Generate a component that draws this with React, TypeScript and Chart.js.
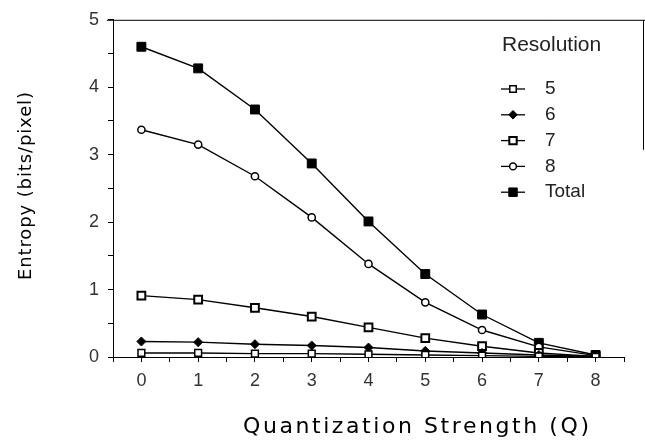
import React, { useEffect, useRef } from 'react';
import { Chart, registerables } from 'chart.js';
import { drawPoint } from 'chart.js/helpers';

Chart.register(...registerables);

// ---- data ----
const qValues = [0, 1, 2, 3, 4, 5, 6, 7, 8];
const seriesLabels = ['5', '6', '7', '8', 'Total'];
const res5 = [0.06, 0.06, 0.05, 0.05, 0.04, 0.03, 0.02, 0.01, 0.0];
const res6 = [0.23, 0.22, 0.19, 0.17, 0.14, 0.09, 0.06, 0.03, 0.01];
const res7 = [0.91, 0.85, 0.73, 0.6, 0.44, 0.28, 0.16, 0.06, 0.01];
const res8 = [3.37, 3.15, 2.68, 2.07, 1.38, 0.81, 0.4, 0.15, 0.02];
const total = [4.6, 4.28, 3.67, 2.87, 2.01, 1.23, 0.63, 0.21, 0.03];
const legendTitle = 'Resolution';
const xTitle = 'Quantization Strength (Q)';
const yTitle = 'Entropy (bits/pixel)';

const seriesValues = [res5, res6, res7, res8, total];

// ---- styles ----
const markerStyles = [
  { pointStyle: 'rect', radius: 4.8, bg: '#ffffff', bw: 1.5 },
  { pointStyle: 'rectRot', radius: 4.5, bg: '#000000', bw: 1 },
  { pointStyle: 'rect', radius: 5.5, bg: '#ffffff', bw: 2 },
  { pointStyle: 'circle', radius: 3.6, bg: '#ffffff', bw: 1.5 },
  { pointStyle: 'rect', radius: 6.3, bg: '#000000', bw: 1 },
];

const FONT = '"Liberation Sans", Arial, Helvetica, sans-serif';
const TITLE_FONT = '"DejaVu Sans", "Liberation Sans", sans-serif';

function drawSpacedText(ctx: CanvasRenderingContext2D, text: string, target: number) {
  (ctx as any).letterSpacing = '0px';
  const w = ctx.measureText(text).width;
  const sp = Math.max(0, (target - w) / Math.max(1, text.length - 1));
  (ctx as any).letterSpacing = sp + 'px';
  ctx.fillText(text, sp / 2, 0);
  (ctx as any).letterSpacing = '0px';
}

const decorPlugin = {
  id: 'decor',
  afterDraw(chart: any) {
    const ctx: CanvasRenderingContext2D = chart.ctx;
    const ca = chart.chartArea;
    ctx.save();
    // frame remnants
    ctx.strokeStyle = '#000';
    ctx.lineWidth = 1;
    ctx.beginPath();
    ctx.moveTo(ca.left - 6, ca.top + 0.5);
    ctx.lineTo(chart.width, ca.top + 0.5);
    ctx.moveTo(chart.width - 1.5, ca.top);
    ctx.lineTo(chart.width - 1.5, ca.top + 130);
    ctx.stroke();

    // axis titles
    ctx.fillStyle = '#000';
    ctx.textAlign = 'center';
    ctx.textBaseline = 'middle';
    ctx.font = `22px ${TITLE_FONT}`;
    ctx.save();
    ctx.translate(416, 427);
    drawSpacedText(ctx, xTitle, 346);
    ctx.restore();

    ctx.font = `18px ${TITLE_FONT}`;
    ctx.save();
    ctx.translate(26, 186);
    ctx.rotate(-Math.PI / 2);
    drawSpacedText(ctx, yTitle, 188);
    ctx.restore();

    // legend
    ctx.fillStyle = '#222';
    ctx.textAlign = 'left';
    ctx.font = `21px ${FONT}`;
    ctx.fillText(legendTitle, 502, 45);
    ctx.font = `19px ${FONT}`;
    chart.data.datasets.forEach((ds: any, i: number) => {
      const y = 89 + i * 25.8;
      ctx.strokeStyle = '#000';
      ctx.lineWidth = 1.3;
      ctx.beginPath();
      ctx.moveTo(501, y);
      ctx.lineTo(525, y);
      ctx.stroke();
      ctx.fillStyle = ds.pointBackgroundColor;
      ctx.strokeStyle = '#000';
      ctx.lineWidth = ds.pointBorderWidth;
      drawPoint(ctx, {
        pointStyle: ds.pointStyle,
        radius: ds.pointRadius * 0.95,
        rotation: 0,
        borderWidth: ds.pointBorderWidth,
      } as any, 513, y);
      ctx.fillStyle = '#222';
      ctx.fillText(ds.label, 545, y);
    });
    ctx.restore();
  },
};

export default function App() {
  const ref = useRef<HTMLCanvasElement | null>(null);

  useEffect(() => {
    if (!ref.current) return;
    const datasets = seriesLabels.map((label, i) => ({
      label,
      data: qValues.map((q, j) => ({ x: q, y: seriesValues[i][j] })),
      borderColor: '#000',
      borderWidth: 1.4,
      pointStyle: markerStyles[i].pointStyle,
      pointRadius: markerStyles[i].radius,
      pointBackgroundColor: markerStyles[i].bg,
      pointBorderColor: '#000',
      pointBorderWidth: markerStyles[i].bw,
      fill: false,
      tension: 0,
    }));

    const chart = new Chart(ref.current, {
      type: 'line',
      data: { datasets },
      options: {
        animation: false,
        responsive: false,
        layout: { padding: { top: 16, right: 21, left: 0, bottom: 0 } },
        plugins: {
          legend: { display: false },
          tooltip: { enabled: false },
        },
        scales: {
          x: {
            type: 'linear',
            min: -0.5,
            max: 8.5,
            afterFit: (s: any) => { s.height = 83; },
            border: { display: true, color: '#000', width: 1 },
            grid: { drawOnChartArea: false, drawTicks: true, tickLength: 5, tickColor: '#000' },
            ticks: {
              stepSize: 0.5,
              autoSkip: false,
              maxRotation: 0,
              padding: 8,
              color: '#333',
              font: { family: FONT, size: 18 },
              callback: (v: any) => (Number.isInteger(v) && v >= 0 ? String(v) : ''),
            },
          },
          y: {
            type: 'linear',
            min: 0,
            max: 5,
            afterFit: (s: any) => { s.width = 113; },
            border: { display: true, color: '#000', width: 1 },
            grid: { drawOnChartArea: false, drawTicks: true, tickLength: 5, tickColor: '#000' },
            ticks: {
              stepSize: 0.5,
              autoSkip: false,
              padding: 9,
              color: '#333',
              font: { family: FONT, size: 18 },
              callback: (v: any) => (Number.isInteger(v) ? String(v) : ''),
            },
          },
        },
      },
      plugins: [decorPlugin],
    } as any);
    return () => chart.destroy();
  }, []);

  return (
    <div style={{ position: 'absolute', left: 0, top: 0, width: 645, height: 440, background: '#fff' }}>
      <canvas ref={ref} width={645} height={440} />
    </div>
  );
}
